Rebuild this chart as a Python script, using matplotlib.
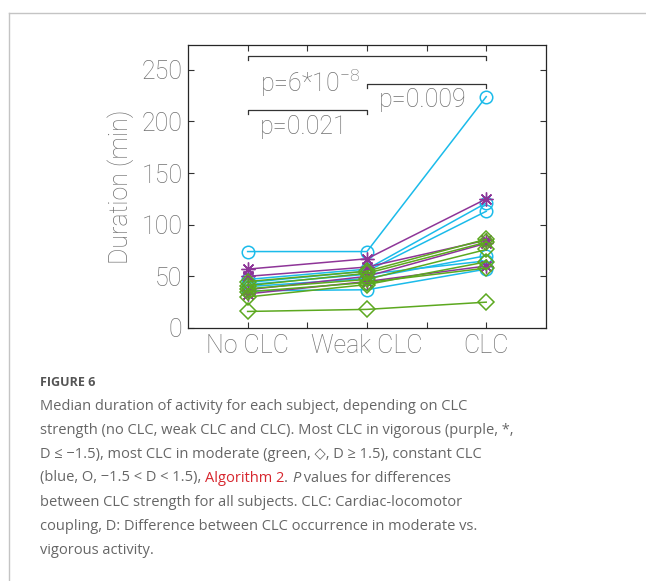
import matplotlib
matplotlib.use('Agg')
import matplotlib.pyplot as plt
from matplotlib.lines import Line2D

categories = ['No CLC', 'Weak CLC', 'CLC']

# constant CLC (blue, circles)
blue_series = [
    [74, 74, 224],
    [47, 57, 121],
    [44, 55, 113],
    [42, 52, 65],
    [40, 48, 70],
    [36, 37, 57],
]
# most CLC in vigorous (purple, stars)
purple_series = [
    [57, 67, 125],
    [50, 59, 85],
    [37, 50, 82],
    [33, 45, 60],
]
# most CLC in moderate (green, diamonds)
green_series = [
    [45, 55, 86],
    [41, 53, 83],
    [38, 47, 76],
    [35, 44, 58],
    [30, 42, 64],
    [16, 18, 25],
]

pairs = [(1, 3), (2, 3), (1, 2)]
pair_heights = [263.5, 236.5, 211]
p_texts = [r'p=6*10$^{\mathregular{-8}}$', 'p=0.009', 'p=0.021']
p_pos = [(1.1, 237), (2.1, 221), (1.1, 195)]

BLUE = '#1bbbea'
PURPLE = '#8e3598'
GREEN = '#5ca81f'
AX_TXT = '#707070'
AX_FONT = ['Roboto', 'DejaVu Sans']
AX_SIZE = 18

fig = plt.figure(figsize=(6.46, 5.81), dpi=100)
ax = fig.add_axes([0.291, 0.4355, 0.554, 0.487])

x = [1, 2, 3]
for s in blue_series:
    ax.plot(x, s, color=BLUE, lw=1.1, marker='o', ms=9, mfc='none', mew=1.1)
for s in purple_series:
    ax.plot(x, s, color=PURPLE, lw=1.1, marker=(8, 2, 0), ms=10, mfc='none', mew=1.0)
for s in green_series:
    ax.plot(x, s, color=GREEN, lw=1.1, marker='D', ms=8, mfc='none', mew=1.1)

for (a, b), h in zip(pairs, pair_heights):
    ax.plot([a, a, b, b], [h - 4, h, h, h - 4], color='#333333', lw=0.9)

for t, (px, py) in zip(p_texts, p_pos):
    ax.text(px, py, t, fontsize=AX_SIZE, color=AX_TXT, family=AX_FONT, weight='light',
            va='center', ha='left')

ax.set_xlim(0.5, 3.5)
ax.set_ylim(0, 274)
ax.set_xticks([1, 2, 3])
ax.set_xticklabels(categories)
ax.set_xticks([1.5, 2.5], minor=True)
ax.set_yticks([0, 50, 100, 150, 200, 250])
ax.tick_params(which='both', direction='in', length=4, width=0.8, color='#333333',
               top=True, right=True, labelsize=AX_SIZE, labelcolor=AX_TXT, pad=4)
for lab in ax.get_xticklabels() + ax.get_yticklabels():
    lab.set_family(AX_FONT)
    lab.set_weight('light')
for sp in ax.spines.values():
    sp.set_color('#262626')
    sp.set_linewidth(0.9)
ax.set_ylabel('Duration (min)', fontsize=AX_SIZE, color=AX_TXT, family=AX_FONT,
              weight='light', labelpad=5)

# card border
fig.add_artist(Line2D([9 / 646, 1], [1 - 13 / 581] * 2, color='#c4c4c4', lw=1))
fig.add_artist(Line2D([9 / 646] * 2, [0, 1 - 13 / 581], color='#c4c4c4', lw=1))

CAP = '#666666'
cap_font = ['Open Sans', 'DejaVu Sans']
CAP_SIZE = 10.5
x0 = 40 / 646
fig.text(x0, 1 - 383 / 581, 'FIGURE 6', fontsize=9, weight='bold', color='#555555',
         family=cap_font, va='center')

lines = [
    'Median duration of activity for each subject, depending on CLC',
    'strength (no CLC, weak CLC and CLC). Most CLC in vigorous (purple, *,',
    'D \u2264 \u22121.5), most CLC in moderate (green, \u25c7, D \u2265 1.5), constant CLC',
    None,
    'between CLC strength for all subjects. CLC: Cardiac-locomotor',
    'coupling, D: Difference between CLC occurrence in moderate vs.',
    'vigorous activity.',
]
ys = [406, 430, 454, 478, 503, 527, 551]
for txt, y in zip(lines, ys):
    if txt is None:
        continue
    fig.text(x0, 1 - y / 581, txt, fontsize=CAP_SIZE, color=CAP, family=cap_font,
             va='center')

# mixed line
y4 = 1 - ys[3] / 581
t1 = fig.text(x0, y4, '(blue, O, \u22121.5 < D < 1.5), ', fontsize=CAP_SIZE, color=CAP,
              family=cap_font, va='center')
t2 = ax.annotate('Algorithm 2', xy=(1, 0.5), xycoords=t1, fontsize=CAP_SIZE,
                 color='#d7262e', family=cap_font, va='center', ha='left',
                 annotation_clip=False)
t3 = ax.annotate('. ', xy=(1, 0.5), xycoords=t2, fontsize=CAP_SIZE, color=CAP,
                 family=cap_font, va='center', ha='left', annotation_clip=False)
t4 = ax.annotate('P', xy=(1, 0.5), xycoords=t3, fontsize=CAP_SIZE, color=CAP,
                 family=cap_font, style='italic', va='center', ha='left',
                 annotation_clip=False)
ax.annotate(' values for differences', xy=(1, 0.5), xycoords=t4, fontsize=CAP_SIZE,
            color=CAP, family=cap_font, va='center', ha='left',
            annotation_clip=False)

fig.savefig('out.png', dpi=100)
